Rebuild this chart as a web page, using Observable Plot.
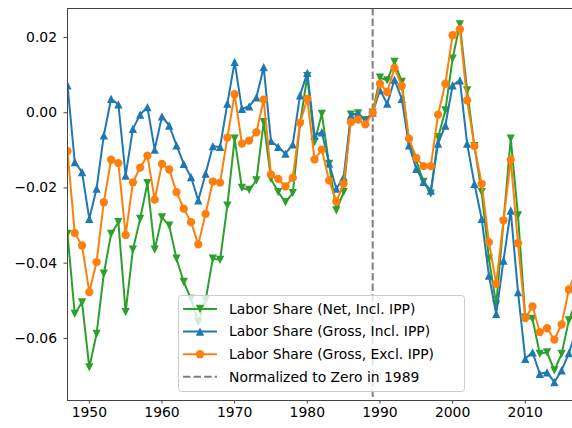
<!DOCTYPE html>
<html><head><meta charset="utf-8">
<script src="https://cdn.jsdelivr.net/npm/d3@7"></script>
<script src="https://cdn.jsdelivr.net/npm/@observablehq/plot@0.6"></script>
<style>body{margin:0;background:#fff} #chart{width:572px;height:428px}</style>
</head><body><div id="chart"></div><script>
const years = d3.range(1947, 2018);
const netIncl = [-0.0322,-0.0535,-0.0504,-0.0677,-0.0588,-0.0428,-0.0322,-0.0291,-0.0530,-0.0364,
-0.0282,-0.0187,-0.0364,-0.0278,-0.0300,-0.0388,-0.0450,-0.0495,-0.0557,-0.0499,
-0.0388,-0.0391,-0.0247,-0.0069,-0.0200,-0.0205,-0.0180,-0.0025,-0.0176,-0.0211,
-0.0238,-0.0214,-0.0030,0.0097,-0.0078,-0.0003,-0.0136,-0.0260,-0.0211,-0.0005,
-0.0002,-0.0020,0,0.0093,0.0086,0.0135,0.0082,-0.0078,-0.0127,-0.0184,
-0.0215,-0.0065,0.0006,0.0144,0.0235,0.0059,-0.0089,-0.0211,-0.0388,-0.0510,
-0.0290,-0.0069,-0.0273,-0.0545,-0.0548,-0.0641,-0.0637,-0.0685,-0.0641,-0.0552,-0.0500];
const grossIncl = [0.0073,-0.0131,-0.0158,-0.0282,-0.0202,-0.0060,0.0037,0.0022,-0.0167,-0.0043,
-0.0005,0.0015,-0.0098,-0.0010,-0.0034,-0.0087,-0.0136,-0.0171,-0.0233,-0.0162,
-0.0089,-0.0091,0.0024,0.0135,0.0010,0.0017,0.0041,0.0121,-0.0075,-0.0091,
-0.0109,-0.0084,0.0046,0.0106,-0.0060,-0.0052,-0.0135,-0.0202,-0.0171,-0.0007,
-0.0001,-0.0022,0,0.0060,0.0024,0.0088,0.0037,-0.0087,-0.0149,-0.0184,
-0.0207,-0.0082,-0.0034,0.0073,0.0086,-0.0082,-0.0189,-0.0282,-0.0433,-0.0535,
-0.0393,-0.0260,-0.0477,-0.0654,-0.0637,-0.0694,-0.0690,-0.0716,-0.0685,-0.0639,-0.0580];
const grossExcl = [-0.0102,-0.0320,-0.0353,-0.0477,-0.0397,-0.0238,-0.0125,-0.0134,-0.0325,-0.0185,
-0.0146,-0.0114,-0.0231,-0.0136,-0.0151,-0.0211,-0.0255,-0.0291,-0.0350,-0.0269,
-0.0183,-0.0186,-0.0066,0.0049,-0.0082,-0.0074,-0.0052,0.0035,-0.0164,-0.0176,
-0.0196,-0.0173,-0.0027,0.0037,-0.0124,-0.0098,-0.0180,-0.0236,-0.0189,-0.0025,
-0.0018,-0.0031,0,0.0077,0.0055,0.0119,0.0071,-0.0069,-0.0120,-0.0142,
-0.0142,-0.0005,0.0077,0.0206,0.0222,0.0033,-0.0089,-0.0189,-0.0344,-0.0455,
-0.0286,-0.0125,-0.0347,-0.0546,-0.0515,-0.0583,-0.0573,-0.0603,-0.0563,-0.0470,-0.0420];
const seriesNames = ["Labor Share (Net, Incl. IPP)", "Labor Share (Gross, Incl. IPP)", "Labor Share (Gross, Excl. IPP)"];
const refLabel = "Normalized to Zero in 1989";
const refYear = 1989;
const xTicks = [1950, 1960, 1970, 1980, 1990, 2000, 2010];
const yTicks = [-0.06, -0.04, -0.02, 0, 0.02];
const xDomain = [1947, 2016.5];
const yDomain = [-0.0765, 0.0277];

const triUp = {draw(ctx, size){const s=Math.sqrt(size/Math.PI); ctx.moveTo(0,-s); ctx.lineTo(s,s); ctx.lineTo(-s,s); ctx.closePath();}};
const triDown = {draw(ctx, size){const s=Math.sqrt(size/Math.PI); ctx.moveTo(0,s); ctx.lineTo(s,-s); ctx.lineTo(-s,-s); ctx.closePath();}};

const series = [
  {name: seriesNames[0], values: netIncl, color: "#2ca02c", symbol: triDown},
  {name: seriesNames[1], values: grossIncl, color: "#1f77b4", symbol: triUp},
  {name: seriesNames[2], values: grossExcl, color: "#ff7f0e", symbol: "circle"}
];

const marks = [
  Plot.ruleX([refYear], {stroke: "#7f7f7f", strokeWidth: 2, strokeDasharray: "7.4,3.2"})
];
for (const s of series) {
  const data = years.map((yr, i) => ({year: yr, value: s.values[i]}));
  marks.push(Plot.line(data, {x: "year", y: "value", stroke: s.color, strokeWidth: 2, clip: true}));
  marks.push(Plot.dot(data, {x: "year", y: "value", symbol: s.symbol, r: 4.15, fill: s.color, stroke: "none", clip: true}));
}
marks.push(
  Plot.ruleX([xDomain[0]], {stroke: "#444", strokeWidth: 1}),
  Plot.ruleY([yDomain[0], yDomain[1]], {stroke: "#444", strokeWidth: 1}),
  Plot.axisX({ticks: xTicks, tickFormat: d3.format("d"), tickSize: 3.5, tickPadding: 3, fontSize: 13.9, stroke: "#444"}),
  Plot.axisY({ticks: yTicks, tickFormat: d3.format(".2f"), tickSize: 3.5, tickPadding: 7, fontSize: 13.9, stroke: "#444"})
);

const svg = Plot.plot({
  width: 572, height: 428,
  marginLeft: 67, marginRight: 0, marginTop: 8, marginBottom: 28,
  x: {domain: xDomain, label: null},
  y: {domain: yDomain, label: null},
  style: {fontFamily: "DejaVu Sans", fontSize: "13.9px", background: "white", color: "black"},
  marks
});
document.getElementById("chart").appendChild(svg);

// legend
const lg = d3.select(svg).append("g").attr("font-family", "DejaVu Sans").attr("font-size", "13.9px").attr("text-anchor", "start");
lg.append("rect").attr("x", 178.5).attr("y", 295.5).attr("width", 286).attr("height", 96).attr("rx", 3)
  .attr("fill", "white").attr("fill-opacity", 0.8).attr("stroke", "#cccccc");
const entries = series.map(s => ({label: s.name, color: s.color, symbol: s.symbol, dash: null}))
  .concat([{label: refLabel, color: "#7f7f7f", symbol: null, dash: "7.4,3.2"}]);
entries.forEach((e, i) => {
  const cy = 309 + i * 22.6;
  lg.append("line").attr("x1", 183).attr("x2", 217).attr("y1", cy).attr("y2", cy)
    .attr("stroke", e.color).attr("stroke-width", 2).attr("stroke-dasharray", e.dash);
  if (e.symbol) {
    const sym = e.symbol === "circle" ? d3.symbolCircle : e.symbol;
    lg.append("path").attr("transform", `translate(200,${cy})`)
      .attr("d", d3.symbol(sym, Math.PI * 4.15 * 4.15)()).attr("fill", e.color);
  }
  lg.append("text").attr("x", 229).attr("y", cy).attr("dy", "0.35em").attr("text-anchor", "start").attr("fill", "black").text(e.label);
});
</script></body></html>
